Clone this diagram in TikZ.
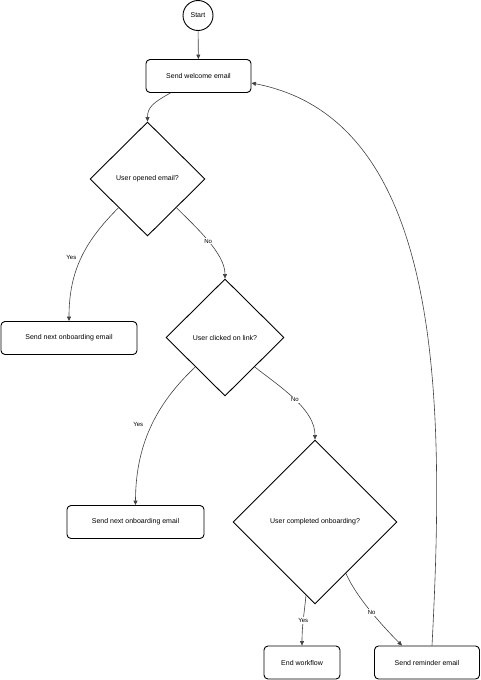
\documentclass[tikz,border=0pt]{standalone}
\usepackage{fontspec}
\setmainfont{Liberation Sans}
\usetikzlibrary{shapes.geometric, arrows.meta}

\tikzset{
  process/.style={rectangle, rounded corners=4pt, draw, line width=0.9pt, minimum height=33pt, inner sep=0pt, font=\fontsize{7}{8}\selectfont},
  decision/.style={diamond, draw, line width=0.9pt, inner sep=0pt, font=\fontsize{7}{8}\selectfont},
  startnode/.style={circle, draw, line width=0.9pt, minimum size=30pt, inner sep=0pt, font=\fontsize{7}{8}\selectfont},
  flow/.style={draw=black!75, line width=0.6pt, -{Triangle[length=4.5pt,width=4pt]}},
  lbl/.style={font=\fontsize{6}{7}\selectfont, fill=white, inner sep=1pt}
}

\begin{document}
\begin{tikzpicture}[x=1pt, y=-1pt]
    \useasboundingbox (0,0) rectangle (480,680);

    % Nodes
    \node[startnode] (start) at (198,15.5) {Start};
    \node[process, minimum width=105pt] (welcome) at (198.5,76) {Send welcome email};
    \node[decision, minimum width=115pt, minimum height=114pt] (opened) at (147.5,179) {User opened email?};
    \node[process, minimum width=136pt] (next1) at (69,338) {Send next onboarding email};
    \node[decision, minimum width=118pt, minimum height=117pt] (clicked) at (225,337.5) {User clicked on link?};
    \node[process, minimum width=137pt] (next2) at (135.5,522) {Send next onboarding email};
    \node[decision, minimum width=164pt, minimum height=164pt] (done) at (315,522) {User completed onboarding?};
    \node[process, minimum width=76pt] (finish) at (302,662.5) {End workflow};
    \node[process, minimum width=105pt] (reminder) at (427,662.5) {Send reminder email};

    % Connectors
    \draw[flow] (start) -- (welcome);
    \draw[flow] ([xshift=-28pt]welcome.south) .. controls +(-18,10) and +(0,-14) .. (opened.north);
    \draw[flow] (opened.south west) .. controls +(-33,33) and +(0,-51) .. node[lbl, pos=0.5, xshift=-10pt, fill=none] {Yes} (next1.north);
    \draw[flow] (opened.south east) .. controls +(20,20) and +(0,-25) .. node[lbl, pos=0.5] {No} (clicked.north);
    \draw[flow] (clicked.south west) .. controls +(-35,33) and +(0,-65) .. node[lbl, pos=0.5, xshift=-14pt, fill=none] {Yes} (next2.north);
    \draw[flow] (clicked.south east) .. controls +(27,21) and +(0,-30) .. node[lbl, pos=0.5] {No} (done.north);
    \draw[flow] (done.-97) .. controls +(-2,20) and +(0,-20) .. node[lbl, pos=0.5] {Yes} (finish.north);
    \draw[flow] (done.-59) .. controls +(11,25) and +(-17,-17) .. node[lbl, pos=0.5] {No} ([xshift=-25pt]reminder.north);
    \draw[flow] ([xshift=5pt]reminder.north) .. controls +(13,-247) and +(192,37) .. ([yshift=-7pt]welcome.east);
\end{tikzpicture}
\end{document}
